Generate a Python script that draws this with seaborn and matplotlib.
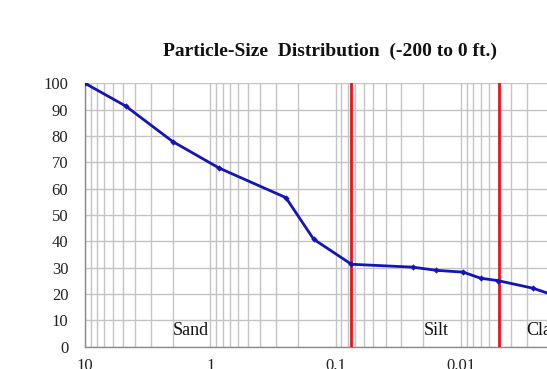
import matplotlib
matplotlib.use("Agg")
import matplotlib.pyplot as plt
import seaborn as sns
import pandas as pd
import numpy as np
from matplotlib.ticker import LogLocator, FixedLocator, NullFormatter

# Data: grain size (mm) vs percent finer
grain_size_mm = [10, 4.75, 2.0, 0.85, 0.25, 0.15, 0.075, 0.0243, 0.0158, 0.0096, 0.0070, 0.0051, 0.00267, 0.0014]
percent_finer = [100, 91.4, 77.9, 67.8, 56.6, 40.8, 31.3, 30.2, 29.0, 28.3, 26.0, 25.1, 22.2, 17.7]

boundaries_mm = [0.075, 0.005]
zone_labels = ["Sand", "Silt", "Clay"]
zone_label_x = [2.0, 0.02, 0.003]
y_ticks = list(range(0, 101, 10))
x_ticks = [10, 1, 0.1, 0.01]
x_tick_labels = ["10", "1", "0.1", "0.01"]
title = "Particle-Size  Distribution  (-200 to 0 ft.)"

sns.set_style("white")
plt.rcParams["font.family"] = ["Liberation Serif", "DejaVu Serif"]

W, H = 547, 369
fig = plt.figure(figsize=(W / 100, H / 100), dpi=100)
left_px, right_px, top_px, bottom_px = 85, 586.5, 83.3, 346.7
ax = fig.add_axes([left_px / W, 1 - bottom_px / H, (right_px - left_px) / W, (bottom_px - top_px) / H])

df = pd.DataFrame({"size": grain_size_mm, "finer": percent_finer})

ax.set_xscale("log")
ax.set_xlim(10, 0.001)
ax.set_ylim(0, 100)

grid_color = "#c4c4c4"
ax.xaxis.set_major_locator(FixedLocator(x_ticks))
ax.xaxis.set_minor_locator(LogLocator(base=10, subs=np.arange(2, 10)))
ax.xaxis.set_minor_formatter(NullFormatter())
ax.set_xticklabels(x_tick_labels)
ax.set_yticks(y_ticks)
ax.grid(True, which="both", axis="x", color=grid_color, linewidth=1.0)
ax.grid(True, which="major", axis="y", color=grid_color, linewidth=1.0)
ax.set_axisbelow(True)

for b in boundaries_mm:
    ax.axvline(b, color="#e8141c", linewidth=2.0, zorder=3)

sns.lineplot(data=df, x="size", y="finer", ax=ax, color="#1515b5", linewidth=2.0,
             marker="D", markersize=3.2, markeredgewidth=0, sort=False, zorder=4)

for lab, xv in zip(zone_labels, zone_label_x):
    ax.text(xv, 4.4, lab, fontsize=13, ha="left", va="baseline", color="#111111", zorder=5)

for s in ["top", "right"]:
    ax.spines[s].set_visible(False)
for s in ["left", "bottom"]:
    ax.spines[s].set_color("#8a8a8a")
    ax.spines[s].set_linewidth(1.0)

ax.tick_params(axis="both", which="major", direction="out", length=6, width=1, color="#8a8a8a",
               labelsize=12, labelcolor="#222222")
ax.tick_params(axis="y", which="major", pad=6)
ax.tick_params(axis="x", which="major", pad=2)
ax.tick_params(axis="x", which="minor", length=0)
ax.set_xlabel("")
ax.set_ylabel("")

fig.text(330 / W, 1 - 51 / H, title, ha="center", va="center", fontsize=14, fontweight="bold", color="#111111")

fig.savefig("out.png", dpi=100)
